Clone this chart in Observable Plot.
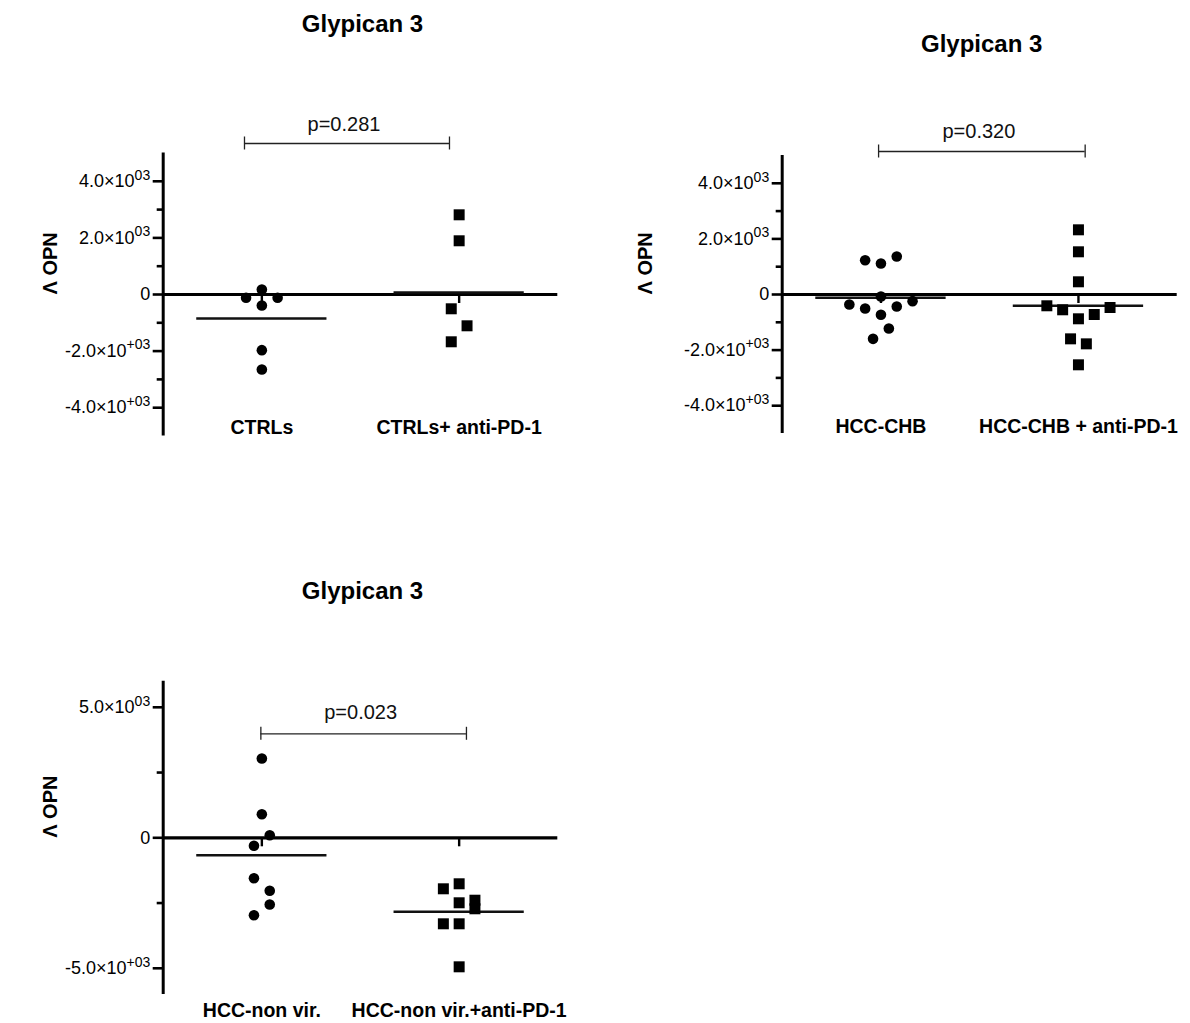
<!DOCTYPE html>
<html>
<head>
<meta charset="utf-8">
<script src="https://cdn.jsdelivr.net/npm/d3@7"></script>
<script src="https://cdn.jsdelivr.net/npm/@observablehq/plot@0.6"></script>
<style>
  body { margin: 0; background: #fff; }
  #page { position: relative; width: 1190px; height: 1023px; overflow: hidden; background: #fff; }
  .panel { position: absolute; }
</style>
</head>
<body>
<div id="page"></div>
<script>
// Shared texts
const chartTitle = "Glypican 3";
const yLabel = "Λ OPN";

// CTRLs panel
const ctrlGroups = ["CTRLs", "CTRLs+ anti-PD-1"];
const ctrlBase = [177, -117, -117, -389, -1967, -2650];
const ctrlBaseLane = [0, -1, 1, 0, 0, 0];
const ctrlPd1 = [2816, 1898, -505, -1106, -1671];
const ctrlPd1Lane = [0, 0, -0.5, 0.5, -0.5];
const ctrlMeans = [-848, 70];
const ctrlP = "p=0.281";

// HCC-CHB panel
const chbGroups = ["HCC-CHB", "HCC-CHB + anti-PD-1"];
const chbBase = [1234, 1115, 1367, -72, -360, -504, -432, -240, -731, -1223, -1595];
const chbBaseLane = [-1, 0, 1, 0, -2, -1, 1, 2, 0, 0.5, -0.5];
const chbPd1 = [2327, 1536, 457, -406, -550, -874, -719, -468, -1595, -1775, -2529];
const chbPd1Lane = [0, 0, 0, -2, -1, 0, 1, 2, -0.5, 0.5, 0];
const chbMeans = [-119, -406];
const chbP = "p=0.320";

// HCC-non vir. panel
const nvGroups = ["HCC-non vir.", "HCC-non vir.+anti-PD-1"];
const nvBase = [3038, 904, 100, -307, -1548, -2031, -2556, -2966];
const nvBaseLane = [0, 0, 0.5, -0.5, -0.5, 0.5, 0.5, -0.5];
const nvPd1 = [-1954, -1762, -2490, -2391, -2720, -3295, -3295, -4943];
const nvPd1Lane = [-1, 0, 0, 1, 1, -1, 0, 0];
const nvMeans = [-667, -2835];
const nvP = "p=0.023";

// Axis ticks
const ticksTop = [-4000, -2000, 0, 2000, 4000];
const minorTop = [-3000, -1000, 1000, 3000];
const ticksBottom = [-5000, 0, 5000];
const minorBottom = [-2500, 2500];

// Tick label: mantissa ×10 with a raised exponent (marked by "^", turned into a tspan)
function sci(v) {
  if (v === 0) return "0";
  const m = (Math.abs(v) / 1000).toFixed(1);
  return v > 0 ? `${m}×10^03` : `-${m}×10^+03`;
}

function raiseExponents(svg) {
  d3.select(svg).selectAll("text").each(function () {
    const s = this.textContent;
    const k = s.indexOf("^");
    if (k < 0) return;
    const el = d3.select(this);
    el.text(null);
    el.append("tspan").text(s.slice(0, k));
    el.append("tspan").attr("dy", -7.5).attr("font-size", 14).text(s.slice(k + 1));
  });
}

const FONT = '"Liberation Sans", Arial, Helvetica, sans-serif';
const groupX = [0.5, 1.5];
const laneStep = 0.08;
const halfMean = 0.33;

function panel(cfg) {
  const pts = [];
  cfg.series.forEach((s, g) => s.values.forEach((v, i) => pts.push({g, v, x: groupX[g] + s.lanes[i] * laneStep})));
  const meanRows = cfg.means.map((m, g) => ({m, g}));
  const [bx1, bx2, by] = cfg.bracket;

  const svg = Plot.plot({
    width: cfg.width,
    height: cfg.height,
    marginLeft: cfg.margin[3],
    marginRight: cfg.margin[1],
    marginTop: cfg.margin[0],
    marginBottom: cfg.margin[2],
    x: {domain: [0, 2], axis: null},
    y: {domain: cfg.yDomain},
    style: {fontFamily: FONT, fontSize: "18px", background: "white", color: "black", overflow: "visible"},
    marks: [
      // baseline at zero across the plot
      Plot.ruleY([0], {x1: () => 0, x2: () => 2, stroke: "black", strokeWidth: 3.2}),
      // vertical axis line
      Plot.ruleX([0], {y1: () => cfg.yDomain[0], y2: () => cfg.yDomain[1], stroke: "black", strokeWidth: 3}),
      Plot.axisY(cfg.ticks, {anchor: "left", tickSize: 10, tickPadding: 3, strokeWidth: 2.6, fontSize: 18, tickFormat: sci, label: null}),
      Plot.axisY(cfg.minor, {anchor: "left", tickSize: 6, strokeWidth: 2.6, tickFormat: () => "", label: null}),
      // category ticks hanging under the zero line
      Plot.ruleX(groupX, {x: d => d, y1: () => 0, y2: () => 0, insetBottom: -9, stroke: "black", strokeWidth: 2.4}),
      // group means
      Plot.ruleY(meanRows, {y: "m", x1: d => groupX[d.g] - halfMean, x2: d => groupX[d.g] + halfMean, stroke: "#111", strokeWidth: 2.4}),
      Plot.dot(pts.filter(d => d.g === 0), {x: "x", y: "v", symbol: "circle", r: 5.3, fill: "black", stroke: null}),
      Plot.dot(pts.filter(d => d.g === 1), {x: "x", y: "v", symbol: "square", r: 6.2, fill: "black", stroke: null}),
      // significance bracket
      Plot.ruleY([by], {x1: () => bx1, x2: () => bx2, y: d => d, stroke: "#222", strokeWidth: 1.3}),
      Plot.ruleX([bx1, bx2], {x: d => d, y1: () => by, y2: () => by, insetTop: -6.5, insetBottom: -6.5, stroke: "#222", strokeWidth: 1.3}),
      Plot.text([cfg.p], {x: () => (bx1 + bx2) / 2, y: () => by, text: d => d, dx: -3, dy: cfg.pDy, lineAnchor: "bottom", fontSize: 20, fill: "#111"}),
      // group labels
      Plot.text(cfg.groups, {x: (d, i) => groupX[i], text: d => d, frameAnchor: "bottom", lineAnchor: "bottom", dy: cfg.catDy, fontSize: 19.5, fontWeight: "bold"}),
      // panel title
      Plot.text([chartTitle], {text: d => d, frameAnchor: "top", lineAnchor: "bottom", dx: 2, dy: cfg.titleDy, fontSize: 24, fontWeight: "bold"}),
      // y label
      Plot.text([yLabel], {text: d => d, frameAnchor: "left", dx: cfg.labelDx, rotate: -90, fontSize: 20, fontWeight: "bold"})
    ]
  });
  raiseExponents(svg);
  const wrap = document.createElement("div");
  wrap.className = "panel";
  wrap.style.left = cfg.left + "px";
  wrap.style.top = cfg.top + "px";
  wrap.appendChild(svg);
  document.getElementById("page").appendChild(wrap);
}

panel({
  left: 0, top: 0, width: 600, height: 470,
  margin: [152.5, 42.7, 34.5, 162.7],
  yDomain: [-5000, 5000], ticks: ticksTop, minor: minorTop,
  groups: ctrlGroups,
  series: [{values: ctrlBase, lanes: ctrlBaseLane}, {values: ctrlPd1, lanes: ctrlPd1Lane}],
  means: ctrlMeans, p: ctrlP, bracket: [0.412, 1.451, 5336],
  pDy: -12, catDy: -2, titleDy: -121.5, labelDx: -112.7
});

panel({
  left: 600, top: 0, width: 590, height: 470,
  margin: [155, 13.3, 37, 181.7],
  yDomain: [-5000, 5000], ticks: ticksTop, minor: minorTop,
  groups: chbGroups,
  series: [{values: chbBase, lanes: chbBaseLane}, {values: chbPd1, lanes: chbPd1Lane}],
  means: chbMeans, p: chbP, bracket: [0.488, 1.534, 5144],
  pDy: -13, catDy: -1, titleDy: -104, labelDx: -136.7
});

panel({
  left: 0, top: 560, width: 600, height: 463,
  margin: [120.7, 42.7, 29.1, 162.7],
  yDomain: [-6000, 6000], ticks: ticksBottom, minor: minorBottom,
  groups: nvGroups,
  series: [{values: nvBase, lanes: nvBaseLane}, {values: nvPd1, lanes: nvPd1Lane}],
  means: nvMeans, p: nvP, bracket: [0.495, 1.537, 3985],
  pDy: -15, catDy: 23, titleDy: -82.7, labelDx: -112.7
});
</script>
</body>
</html>
